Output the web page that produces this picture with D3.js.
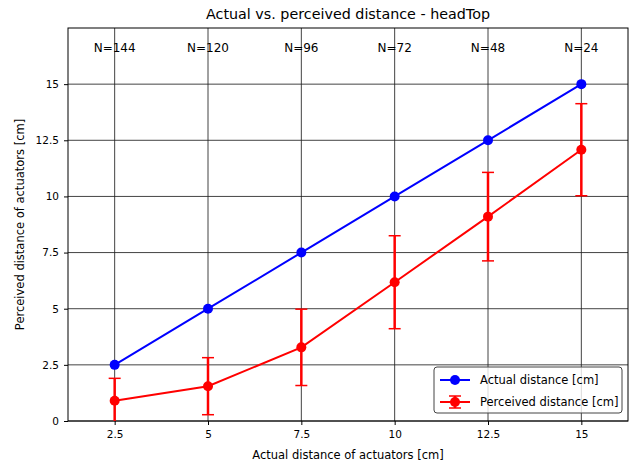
<!DOCTYPE html>
<html>
<head>
<meta charset="utf-8">
<script src="https://cdn.jsdelivr.net/npm/d3@7"></script>
<style>
  body { margin: 0; background: #fff; }
  text { font-family: "DejaVu Sans", sans-serif; fill: #000; }
</style>
</head>
<body>
<div id="chart"></div>
<script>
// data
var distances = [2.5, 5, 7.5, 10, 12.5, 15];
var actual = [2.5, 5, 7.5, 10, 12.5, 15];
var perceived = [0.9, 1.55, 3.28, 6.18, 9.1, 12.08];
var perceivedErr = [1.0, 1.27, 1.7, 2.07, 1.97, 2.05];
var counts = ["N=144", "N=120", "N=96", "N=72", "N=48", "N=24"];
var yTicks = [0, 2.5, 5, 7.5, 10, 12.5, 15];

var width = 633, height = 465;
var margin = {top: 28, right: 5, bottom: 44, left: 68};

var svg = d3.select("#chart").append("svg")
    .attr("width", width)
    .attr("height", height);

var x = d3.scaleLinear()
    .domain([1.25, 16.25])
    .range([margin.left, width - margin.right]);

var y = d3.scaleLinear()
    .domain([0, 17.5])
    .range([height - margin.bottom, margin.top]);

// clip so the error bar below zero is cut at the axis
svg.append("clipPath").attr("id", "clip")
  .append("rect")
    .attr("x", margin.left).attr("y", margin.top)
    .attr("width", x.range()[1] - margin.left)
    .attr("height", y.range()[0] - margin.top);

// grid
var grid = svg.append("g");
grid.selectAll(".vg").data(distances).enter().append("line")
    .attr("x1", function (d) { return x(d); })
    .attr("x2", function (d) { return x(d); })
    .attr("y1", y.range()[0]).attr("y2", y.range()[1])
    .attr("stroke", "#222").attr("stroke-opacity", 0.85).attr("stroke-width", 1);
grid.selectAll(".hg").data(yTicks).enter().append("line")
    .attr("y1", function (d) { return y(d); })
    .attr("y2", function (d) { return y(d); })
    .attr("x1", x.range()[0]).attr("x2", x.range()[1])
    .attr("stroke", "#222").attr("stroke-opacity", 0.85).attr("stroke-width", 1);

// axes
var fmt = function (d) { return d3.format("")(d); };
svg.append("g")
    .attr("transform", "translate(0," + y.range()[0] + ")")
    .call(d3.axisBottom(x).tickValues(distances).tickFormat(fmt).tickSize(4).tickPadding(6))
    .call(function (g) {
        g.select(".domain").remove();
        g.selectAll("text").attr("font-size", 10.5).attr("font-family", "DejaVu Sans");
    });
svg.append("g")
    .attr("transform", "translate(" + x.range()[0] + ",0)")
    .call(d3.axisLeft(y).tickValues(yTicks).tickFormat(fmt).tickSize(4).tickPadding(5))
    .call(function (g) {
        g.select(".domain").remove();
        g.selectAll("text").attr("font-size", 10.5).attr("font-family", "DejaVu Sans");
    });

// frame
svg.append("rect")
    .attr("x", x.range()[0]).attr("y", y.range()[1])
    .attr("width", x.range()[1] - x.range()[0])
    .attr("height", y.range()[0] - y.range()[1])
    .attr("fill", "none").attr("stroke", "#000").attr("stroke-width", 1);

// N labels
svg.append("g").selectAll("text").data(distances).enter().append("text")
    .attr("x", function (d) { return x(d); })
    .attr("y", 52)
    .attr("text-anchor", "middle")
    .attr("font-size", 12)
    .text(function (d, i) { return counts[i]; });

var plot = svg.append("g").attr("clip-path", "url(#clip)");
var line = d3.line();

// actual
plot.append("path")
    .attr("d", line(distances.map(function (d, i) { return [x(d), y(actual[i])]; })))
    .attr("fill", "none").attr("stroke", "#0000ff").attr("stroke-width", 2);
plot.selectAll(".ma").data(distances).enter().append("circle")
    .attr("cx", function (d) { return x(d); })
    .attr("cy", function (d, i) { return y(actual[i]); })
    .attr("r", 5).attr("fill", "#0000ff");

// perceived + error bars
var eb = plot.selectAll(".eb").data(distances).enter().append("g");
eb.append("line")
    .attr("x1", function (d) { return x(d); })
    .attr("x2", function (d) { return x(d); })
    .attr("y1", function (d, i) { return y(perceived[i] - perceivedErr[i]); })
    .attr("y2", function (d, i) { return y(perceived[i] + perceivedErr[i]); })
    .attr("stroke", "#ff0000").attr("stroke-width", 2.5);
[-1, 1].forEach(function (s) {
    eb.append("line")
        .attr("x1", function (d) { return x(d) - 6; })
        .attr("x2", function (d) { return x(d) + 6; })
        .attr("y1", function (d, i) { return y(perceived[i] + s * perceivedErr[i]); })
        .attr("y2", function (d, i) { return y(perceived[i] + s * perceivedErr[i]); })
        .attr("stroke", "#ff0000").attr("stroke-width", 1.5);
});
plot.append("path")
    .attr("d", line(distances.map(function (d, i) { return [x(d), y(perceived[i])]; })))
    .attr("fill", "none").attr("stroke", "#ff0000").attr("stroke-width", 2);
plot.selectAll(".mp").data(distances).enter().append("circle")
    .attr("cx", function (d) { return x(d); })
    .attr("cy", function (d, i) { return y(perceived[i]); })
    .attr("r", 5).attr("fill", "#ff0000");

// legend
var lg = svg.append("g").attr("transform", "translate(434,367)");
lg.append("rect")
    .attr("width", 188).attr("height", 46).attr("rx", 3)
    .attr("fill", "#fff").attr("fill-opacity", 0.8)
    .attr("stroke", "#444").attr("stroke-width", 1);
lg.append("line").attr("x1", 6).attr("x2", 36).attr("y1", 13).attr("y2", 13)
    .attr("stroke", "#0000ff").attr("stroke-width", 2);
lg.append("circle").attr("cx", 21).attr("cy", 13).attr("r", 5).attr("fill", "#0000ff");
lg.append("text").attr("x", 46).attr("y", 17).attr("font-size", 11.5).text("Actual distance [cm]");
lg.append("line").attr("x1", 6).attr("x2", 36).attr("y1", 35).attr("y2", 35)
    .attr("stroke", "#ff0000").attr("stroke-width", 2);
lg.append("line").attr("x1", 21).attr("x2", 21).attr("y1", 29).attr("y2", 41)
    .attr("stroke", "#ff0000").attr("stroke-width", 2.5);
[29, 41].forEach(function (yy) {
    lg.append("line").attr("x1", 15).attr("x2", 27).attr("y1", yy).attr("y2", yy)
        .attr("stroke", "#ff0000").attr("stroke-width", 1.5);
});
lg.append("circle").attr("cx", 21).attr("cy", 35).attr("r", 5).attr("fill", "#ff0000");
lg.append("text").attr("x", 46).attr("y", 39).attr("font-size", 11.5).text("Perceived distance [cm]");

// titles
svg.append("text")
    .attr("x", (x.range()[0] + x.range()[1]) / 2).attr("y", 19)
    .attr("text-anchor", "middle").attr("font-size", 14.3)
    .text("Actual vs. perceived distance - headTop");
svg.append("text")
    .attr("x", (x.range()[0] + x.range()[1]) / 2).attr("y", 459)
    .attr("text-anchor", "middle").attr("font-size", 11.5)
    .text("Actual distance of actuators [cm]");
svg.append("text")
    .attr("transform", "translate(24," + (y.range()[0] + y.range()[1]) / 2 + ") rotate(-90)")
    .attr("text-anchor", "middle").attr("font-size", 11.5)
    .text("Perceived distance of actuators [cm]");
</script>
</body>
</html>
